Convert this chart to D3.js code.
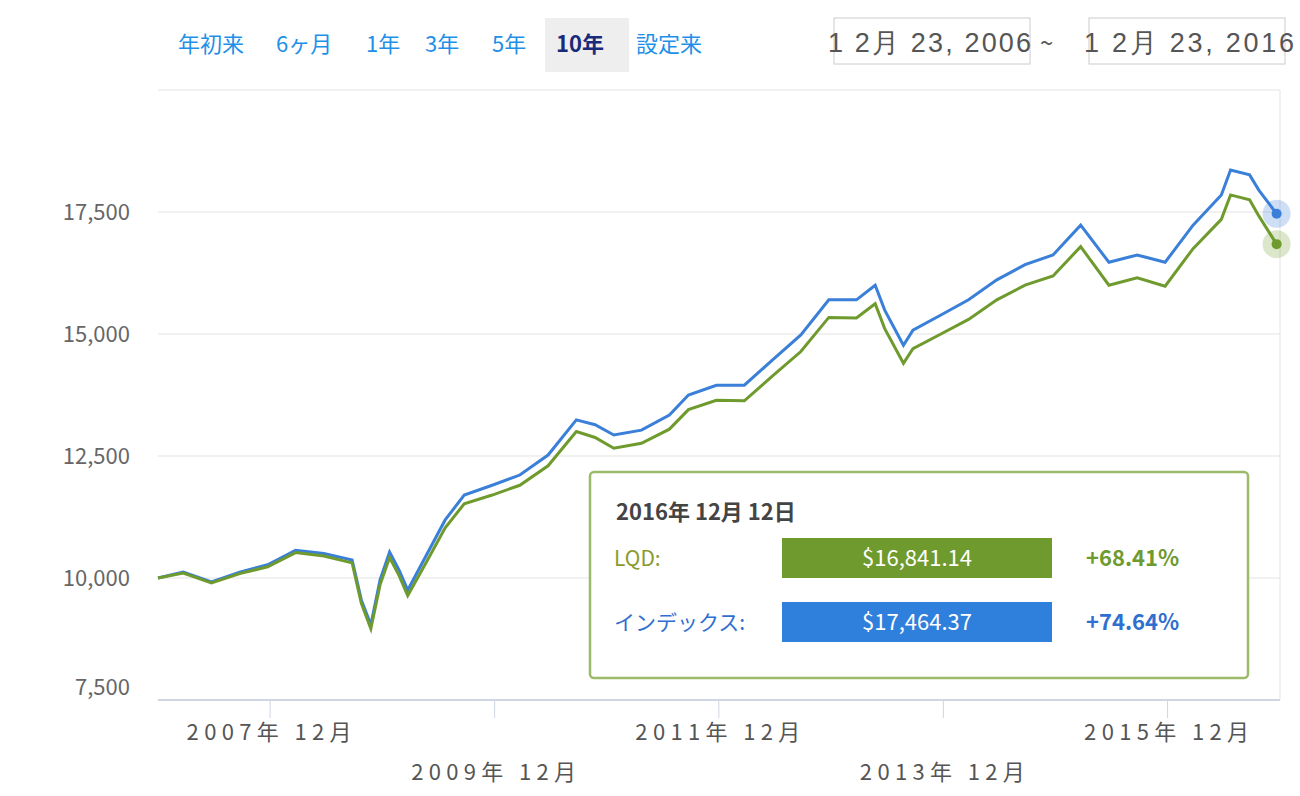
<!DOCTYPE html>
<html><head><meta charset="utf-8">
<script src="https://cdn.jsdelivr.net/npm/d3@7/dist/d3.min.js"></script>
<style>body{margin:0;background:#fff;font-family:"Noto Sans CJK JP","Noto Sans",sans-serif}</style>
</head><body><svg id="c" width="1300" height="796"></svg>
<script>
const dates=["2006-12-23","2007-03","2007-06","2007-09","2007-12","2008-03","2008-06","2008-09","2008-10","2008-11","2008-12","2009-01","2009-02","2009-03","2009-05","2009-07","2009-09","2009-12","2010-03","2010-06","2010-09","2010-11","2011-01","2011-04","2011-07","2011-09","2011-12","2012-03","2012-06","2012-09","2012-12","2013-03","2013-05","2013-06","2013-08","2013-09","2013-12","2014-03","2014-06","2014-09","2014-12","2015-03","2015-06","2015-09","2015-12","2016-03","2016-06","2016-07","2016-09","2016-10","2016-12-12"];
const indexValues=[10000,10120,9920,10120,10270,10570,10500,10370,9550,9040,9960,10530,10160,9750,10470,11190,11700,11900,12110,12520,13240,13140,12930,13030,13340,13750,13950,13950,14470,14980,15700,15700,16000,15490,14770,15080,15390,15700,16110,16420,16620,17230,16470,16620,16470,17230,17850,18360,18260,17950,17464];
const lqdValues=[10000,10100,9900,10090,10230,10520,10450,10310,9480,8960,9860,10420,10050,9640,10330,11030,11520,11700,11900,12300,13000,12880,12660,12760,13050,13450,13640,13630,14140,14640,15340,15330,15620,15110,14400,14700,15000,15300,15700,16000,16190,16790,16000,16150,15980,16750,17350,17850,17750,17420,16841];
const yTicks=[7500,10000,12500,15000,17500];
const xTicks=["2007-12-23","2009-12-23","2011-12-23","2013-12-23","2015-12-23"];
const buttons=["年初来","6ヶ月","1年","3年","5年","10年","設定来"];

const svg=d3.select("#c");
const parse=s=>s.length===7?new Date(s+"-15"):new Date(s);
const x=d3.scaleTime().domain([new Date("2006-12-23"),new Date("2016-12-23")]).range([158,1280]);
const y=d3.scaleLinear().domain([7500,20000]).range([700,90]);

svg.append("g").selectAll("line").data(yTicks.concat([20000])).join("line")
 .attr("x1",158).attr("x2",1280).attr("y1",d=>y(d)).attr("y2",d=>y(d)).attr("stroke","#e3e3e3");
svg.append("line").attr("x1",1280).attr("x2",1280).attr("y1",90).attr("y2",700).attr("stroke","#e3e3e3");
svg.append("g").selectAll("text").data(yTicks).join("text")
 .attr("x",130).attr("y",d=>Math.min(y(d),687)).attr("dy","0.35em").attr("text-anchor","end")
 .attr("fill","#666").attr("font-size",22).text(d3.format(","));
svg.append("line").attr("x1",158).attr("x2",1280).attr("y1",700).attr("y2",700).attr("stroke","#cfd6e3").attr("stroke-width",2);
const xt=svg.append("g").selectAll("g").data(xTicks).join("g").attr("transform",d=>`translate(${x(new Date(d))},0)`);
xt.append("line").attr("y1",700).attr("y2",718).attr("stroke","#cfd6e3");
xt.append("text").attr("x",-1).attr("y",(d,i)=>i%2?780:740).attr("text-anchor","middle").attr("fill","#555").attr("font-size",22)
 .attr("textLength",165).text(d=>d.slice(0,4)+"年 12月");

const line=d3.line().x((d,i)=>x(parse(dates[i]))).y(d=>y(d)).curve(d3.curveLinear);
svg.append("path").datum(indexValues).attr("d",line).attr("fill","none").attr("stroke","#3a7fd8").attr("stroke-width",3);
svg.append("path").datum(lqdValues).attr("d",line).attr("fill","none").attr("stroke","#6f9a2e").attr("stroke-width",3);
const last=dates.length-1, lx=x(parse(dates[last]));
[[indexValues,"#3a7fd8","rgba(58,127,216,0.25)"],[lqdValues,"#6f9a2e","rgba(111,154,46,0.25)"]].forEach(([v,c,h])=>{
 svg.append("circle").attr("cx",lx).attr("cy",y(v[last])).attr("r",14).attr("fill",h);
 svg.append("circle").attr("cx",lx).attr("cy",y(v[last])).attr("r",5).attr("fill",c);
});

const bx=[178,276,366,425,492,556,636];
buttons.forEach((b,i)=>{
 if(i===5) svg.append("rect").attr("x",545).attr("y",18).attr("width",84).attr("height",54).attr("fill","#eeeeee");
 svg.append("text").attr("x",bx[i]).attr("y",52).attr("font-size",22).attr("fill",i===5?"#1a2a7a":"#1e90e8")
  .attr("font-weight",i===5?"bold":"normal").text(b);
});
svg.append("rect").attr("x",834).attr("y",18).attr("width",196).attr("height",46).attr("fill","#fff").attr("stroke","#ccc");
svg.append("rect").attr("x",1089).attr("y",18).attr("width",196).attr("height",46).attr("fill","#fff").attr("stroke","#ccc");
svg.append("text").attr("x",828).attr("y",52).attr("font-size",27).attr("fill","#555").attr("font-family","Liberation Sans Narrow, Liberation Sans").attr("textLength",203).text("1 2月 23, 2006");
svg.append("text").attr("x",1040).attr("y",52).attr("font-size",24).attr("fill","#555").text("~");
svg.append("text").attr("x",1084).attr("y",52).attr("font-size",27).attr("fill","#555").attr("font-family","Liberation Sans Narrow, Liberation Sans").attr("textLength",210).text("1 2月 23, 2016");

const tt=svg.append("g");
tt.append("rect").attr("x",590).attr("y",472).attr("width",658).attr("height",206).attr("rx",4).attr("fill","#fff").attr("stroke","#9cbb6a").attr("stroke-width",2.5);
tt.append("text").attr("x",616).attr("y",520).attr("font-size",22).attr("font-weight","bold").attr("fill","#444").text("2016年 12月 12日");
tt.append("text").attr("x",614).attr("y",566).attr("font-size",21).attr("fill","#8a9a2e").text("LQD:");
tt.append("text").attr("x",614).attr("y",630).attr("font-size",21).attr("fill","#2f6fd0").text("インデックス:");
tt.append("rect").attr("x",782).attr("y",538).attr("width",270).attr("height",40).attr("fill","#6f9a2e");
tt.append("rect").attr("x",782).attr("y",602).attr("width",270).attr("height",40).attr("fill","#2f7fdc");
tt.append("text").attr("x",917).attr("y",566).attr("text-anchor","middle").attr("font-size",22).attr("fill","#fff").text("$16,841.14");
tt.append("text").attr("x",917).attr("y",630).attr("text-anchor","middle").attr("font-size",22).attr("fill","#fff").text("$17,464.37");
tt.append("text").attr("x",1086).attr("y",566).attr("font-size",22).attr("font-weight","bold").attr("fill","#6f9a2e").text("+68.41%");
tt.append("text").attr("x",1086).attr("y",630).attr("font-size",22).attr("font-weight","bold").attr("fill","#2f6fd0").text("+74.64%");
</script></body></html>
